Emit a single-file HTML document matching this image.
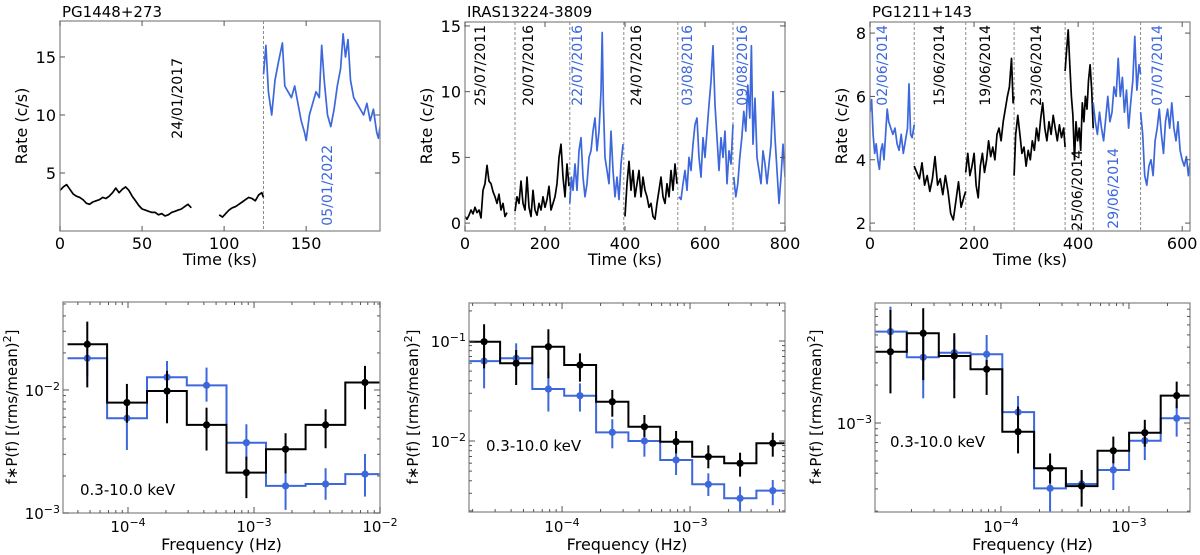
<!DOCTYPE html>
<html><head><meta charset="utf-8"><style>
html,body{margin:0;padding:0;background:#fff}
svg{display:block;font-family:"DejaVu Sans","Liberation Sans",sans-serif}
</style></head><body>
<svg id="fig" width="1200" height="555" viewBox="0 0 1200 555" xmlns="http://www.w3.org/2000/svg"></svg>
<script>
// ---------- Light curve data [time ks, rate c/s] ----------
const lc1_black_a=[[0,3.5],[2,3.8],[4,4.0],[6,3.6],[8,3.2],[10,3.0],[12,2.9],[14,2.7],[16,2.4],[18,2.3],[20,2.5],[22,2.6],[24,2.7],[26,2.9],[28,2.8],[30,3.0],[32,3.3],[34,3.7],[36,3.3],[38,3.6],[40,3.8],[42,3.5],[44,3.0],[46,2.6],[48,2.2],[50,1.9],[52,1.8],[54,1.7],[56,1.6],[58,1.6],[60,1.4],[62,1.5],[64,1.3],[66,1.4],[68,1.6],[70,1.7],[72,1.8],[74,1.9],[76,2.1],[78,2.3],[80,2.0]];
const lc1_black_b=[[97,1.4],[99,1.2],[101,1.5],[103,1.8],[105,2.0],[107,2.1],[109,2.3],[111,2.5],[113,2.7],[115,2.9],[117,2.8],[119,2.6],[121,3.1],[123,3.3],[124,2.9]];
const lc1_blue=[[124,13.5],[125.5,16],[127,12],[129,10],[131,13],[133,14.5],[135.5,16.2],[137,12.5],[139,12],[141,11.5],[143,12.5],[145,11],[147,9.5],[149,8.5],[150,7.8],[152,10],[154,11],[156,12],[158,11.5],[159.5,16],[161,13],[163,10],[165,9],[167,10.5],[169,12.5],[171,14],[172.5,17],[174,15],[175.5,16.5],[177,13],[179,11.5],[181,11],[183,10.5],[185,10],[187,11],[189,9.5],[191,10.5],[193,8.5],[194,8],[195,9]];
const lc1_splits=[124];
const lc2_black_a=[[0,0.5],[5,0.3],[10,0.6],[15,1.0],[20,0.7],[25,1.2],[30,0.8],[35,1.0],[40,0.4],[45,2.5],[50,3.0],[55,4.4],[60,3.2],[65,3.0],[70,2.4],[75,2.0],[80,1.5],[85,2.2],[90,1.0],[95,1.5],[100,0.5],[105,0.8]];
const lc2_black_b=[[125,0.9],[130,2.0],[135,1.5],[140,3.2],[145,1.5],[150,1.0],[155,3.5],[160,1.2],[165,0.5],[170,2.5],[175,1.0],[180,0.6],[185,1.5],[190,1.0],[195,2.0],[200,1.2],[205,1.8],[210,2.8],[215,1.0],[220,1.5],[225,2.0],[230,3.0],[235,5.0],[240,6.0],[245,3.5],[250,2.0],[255,4.5],[260,2.8]];
const lc2_blue_c=[[262,1.5],[266,3.5],[270,2.5],[275,4.5],[280,2.5],[285,5.5],[290,6.5],[295,3.5],[300,2.0],[305,3.0],[310,5.0],[315,5.5],[320,7.0],[325,8.0],[330,5.5],[335,7.0],[340,10.0],[343,14.5],[346,9.0],[350,5.0],[355,4.0],[360,3.0],[365,7.0],[370,4.0],[375,2.0],[380,3.5],[385,1.8],[390,4.5],[395,6.0]];
const lc2_black_d=[[400,0.5],[405,3.0],[410,4.7],[415,2.5],[420,4.0],[425,2.0],[430,3.0],[435,4.0],[440,2.0],[445,3.5],[450,2.5],[455,2.0],[460,1.2],[465,1.5],[470,0.5],[475,0.3],[480,1.5],[485,2.5],[490,3.5],[495,2.0],[500,1.5],[505,3.0],[510,2.0],[515,4.0],[520,2.5],[525,4.5],[530,3.0]];
const lc2_blue_e=[[535,2.0],[540,1.8],[545,3.0],[550,4.0],[555,2.5],[560,5.0],[565,4.0],[570,6.0],[575,7.5],[580,8.0],[585,5.0],[590,3.5],[595,6.5],[600,5.0],[605,7.0],[610,9.0],[615,10.8],[620,13.5],[625,9.0],[630,6.5],[635,4.0],[640,6.5],[645,5.0],[650,7.0],[655,3.0],[660,5.5],[665,4.5],[670,7.5]];
const lc2_blue_f=[[672,3.5],[677,2.0],[682,3.0],[687,5.0],[692,6.5],[697,8.5],[702,7.0],[707,10.5],[712,8.0],[716,13.5],[720,6.0],[725,9.5],[730,5.0],[735,4.0],[740,3.0],[745,5.5],[750,4.5],[755,3.0],[760,4.5],[765,6.0],[770,10.0],[775,6.5],[780,4.0],[785,1.5],[790,3.5],[795,6.0],[800,3.5]];
const lc2_splits=[125,262,397,532,670];
const lc3_blue_a=[[0,5.5],[3,5.9],[6,4.8],[9,4.2],[12,4.5],[15,4.0],[18,3.7],[21,4.3],[24,4.5],[27,4.0],[30,4.8],[33,5.6],[36,5.2],[40,5.0],[44,4.8],[48,5.0],[52,4.5],[56,4.3],[60,4.8],[64,4.2],[68,4.6],[72,5.0],[75,6.4],[78,4.8],[81,4.7],[85,5.1]];
const lc3_black_b=[[85,3.8],[90,3.6],[95,3.4],[100,3.9],[105,3.2],[110,3.5],[115,3.0],[120,3.4],[125,4.1],[130,3.2],[135,3.4],[140,2.9],[145,3.5],[150,3.0],[155,2.3],[160,2.1],[165,2.7],[170,3.3],[175,2.5],[180,2.8],[184,3.0]];
const lc3_black_c=[[184,3.6],[188,4.2],[192,3.5],[196,3.8],[200,4.2],[204,3.2],[208,2.8],[212,3.8],[216,4.2],[220,3.6],[224,4.0],[228,4.6],[232,4.1],[236,4.4],[240,4.0],[244,4.8],[248,5.0],[252,4.6],[256,5.2],[260,5.6],[264,6.0],[268,6.3],[272,7.2],[275,5.8],[277,6.0]];
const lc3_black_d=[[277,3.5],[280,4.8],[284,5.4],[288,4.8],[292,4.2],[296,4.4],[300,3.8],[304,4.3],[308,4.0],[312,4.6],[316,4.3],[320,5.0],[324,4.6],[328,5.3],[332,5.8],[336,5.0],[340,4.6],[344,5.2],[348,4.8],[352,5.4],[356,5.0],[360,4.6],[364,5.1],[368,4.7],[372,5.0],[375,4.4]];
const lc3_black_e=[[375,6.8],[378,7.5],[381,8.1],[384,7.0],[387,6.0],[390,5.4],[393,4.0],[396,5.2],[399,4.6],[402,5.0],[405,4.3],[408,5.8],[411,5.2],[414,6.0],[417,5.6],[420,6.5],[423,7.0],[426,6.2],[429,5.0]];
const lc3_blue_f=[[429,5.8],[433,5.2],[437,4.8],[441,5.5],[445,5.0],[449,4.6],[453,5.3],[457,6.0],[461,5.2],[465,5.5],[469,6.3],[473,6.0],[477,7.2],[481,6.0],[485,6.6],[489,5.5],[493,6.2],[497,5.0],[501,5.8],[505,6.5],[509,7.9],[513,6.2],[517,7.0],[520,6.7]];
const lc3_blue_g=[[520,5.5],[524,4.8],[528,3.5],[532,3.2],[536,3.8],[540,4.0],[544,3.5],[548,4.6],[552,5.0],[556,5.6],[560,4.8],[564,4.2],[568,5.2],[572,5.6],[576,5.0],[580,5.8],[584,5.0],[588,4.6],[592,5.2],[596,4.3],[600,4.0],[604,3.8],[608,4.1],[612,3.5],[615,3.9]];
const lc3_splits=[85,184,277,375,429,520];

// ---------- PSD data ----------
const psd1_freq=[4.75e-5,9.8e-5,2.04e-4,4.2e-4,8.7e-4,1.78e-3,3.7e-3,7.6e-3];
const psd1_black=[0.0235,0.0079,0.0098,0.0052,0.00213,0.0033,0.0052,0.0115];
const psd1_black_hi=[0.0359,0.0112,0.0143,0.00718,0.00287,0.00445,0.00697,0.0157];
const psd1_black_lo=[0.0105,0.00542,0.00536,0.00322,0.00132,0.0021,0.00336,0.00697];
const psd1_blue=[0.0181,0.00589,0.0127,0.0109,0.00373,0.00166,0.00172,0.00207];
const psd1_blue_hi=[0.0255,0.00755,0.0172,0.0152,0.00526,0.00224,0.00231,0.00302];
const psd1_blue_lo=[0.0128,0.00325,0.00883,0.00804,0.0027,0.00106,0.00128,0.00136];
const psd2_freq=[2.46e-5,4.38e-5,7.82e-5,1.38e-4,2.47e-4,4.4e-4,7.78e-4,1.39e-3,2.46e-3,4.43e-3];
const psd2_black=[0.0984,0.0598,0.0877,0.0575,0.0247,0.0139,0.00984,0.00697,0.00598,0.00948];
const psd2_black_hi=[0.147,0.0813,0.131,0.0753,0.0324,0.0182,0.0126,0.00905,0.00764,0.0121];
const psd2_black_lo=[0.0533,0.0363,0.0424,0.0392,0.0175,0.011,0.00753,0.00533,0.0044,0.00697];
const psd2_blue=[0.063,0.0671,0.0331,0.0284,0.0122,0.01,0.00646,0.00369,0.00267,0.00319];
const psd2_blue_hi=[0.0948,0.0948,0.0493,0.0377,0.0165,0.0129,0.00845,0.00475,0.00349,0.00407];
const psd2_blue_lo=[0.0336,0.0513,0.0197,0.0197,0.00845,0.00697,0.00457,0.00282,0.00189,0.00228];
const psd3_freq=[1.37e-5,2.47e-5,4.32e-5,7.73e-5,1.36e-4,2.42e-4,4.27e-4,7.55e-4,1.33e-3,2.36e-3];
const psd3_black=[3.68e-3,5.15e-3,3.4e-3,2.67e-3,8.53e-4,4.37e-4,3.16e-4,6.03e-4,8.38e-4,1.65e-3];
const psd3_black_hi=[7.88e-3,8.13e-3,5.15e-3,3.16e-3,1.35e-3,5.74e-4,4.24e-4,7.8e-4,1.06e-3,2.13e-3];
const psd3_black_lo=[1.72e-3,2.19e-3,1.57e-3,1.67e-3,5.74e-4,3.32e-4,2.17e-4,4.79e-4,6.49e-4,1.31e-3];
const psd3_blue=[5.31e-3,3.32e-3,3.61e-3,3.51e-3,1.22e-3,3.03e-4,3.28e-4,4.24e-4,7.24e-4,1.09e-3];
const psd3_blue_hi=[8.38e-3,4.84e-3,4.84e-3,4.99e-3,1.64e-3,5.4e-4,4.24e-4,6.29e-4,9.35e-4,1.43e-3];
const psd3_blue_lo=[2.8e-3,1.57e-3,2.19e-3,2.33e-3,8.81e-4,1.92e-4,2.77e-4,2.94e-4,5.08e-4,7.8e-4];

const BLUE="#3d67dc", BLACK="#000", FRAME="#8c8c8c";
const NS="http://www.w3.org/2000/svg";
const svg=document.getElementById('fig');
function mk(tag,attrs,parent){const e=document.createElementNS(NS,tag);for(const k in attrs)e.setAttribute(k,attrs[k]);(parent||svg).appendChild(e);return e;}
function lin(d0,d1,r0,r1){return v=>r0+(v-d0)/(d1-d0)*(r1-r0);}
function lg(l0,l1,r0,r1){return v=>r0+(Math.log10(v)-l0)/(l1-l0)*(r1-r0);}
let clipN=0;
function frame(g,x0,x1,y0,y1){
  const r=mk('rect',{x:x0,y:y0,width:x1-x0,height:y1-y0,fill:'none',stroke:FRAME,'stroke-width':1.3},g);
  
  
}
function tick(g,x,y,dx,dy){mk('line',{x1:x,y1:y,x2:x+dx,y2:y+dy,stroke:'#555','stroke-width':1},g);}
function clip(x0,x1,y0,y1){const id='c'+(clipN++);const cp=mk('clipPath',{id:id});mk('rect',{x:x0,y:y0,width:x1-x0,height:y1-y0},cp);return 'url(#'+id+')';}
function txt(g,x,y,s,opt){const t=mk('text',Object.assign({x:x,y:y,'font-size':14,fill:'#000'},opt||{}),g);t.textContent=s;return t;}
function powLabel(g,x,y,e,anchor){
  const t=mk('text',{x:x,y:y,'font-size':15,'text-anchor':anchor},g);
  
  
  const a=mk('tspan',{},t);a.textContent='10';
  const b=mk('tspan',{dy:-6,'font-size':11},t);b.textContent='\u2212'+Math.abs(e);
}

function lcPanel(name,title,xd,yd,xr,yr,xt,yt,segs,splits,labels,ylabX){
  const g=mk('g',{});
  
  
  const X=lin(xd[0],xd[1],xr[0],xr[1]), Y=lin(yd[0],yd[1],yr[0],yr[1]);
  const cl=clip(xr[0],xr[1],yr[1],yr[0]);
  splits.forEach(s=>{const l=mk('line',{x1:X(s),x2:X(s),y1:yr[1],y2:yr[0],stroke:'#8a8a8a','stroke-width':1,'stroke-dasharray':'3,2'},g);
    
    });
  segs.forEach(sg=>{const p=mk('polyline',{points:sg.d.map(q=>X(q[0]).toFixed(1)+','+Y(q[1]).toFixed(1)).join(' '),fill:'none',stroke:sg.c,'stroke-width':1.7,'stroke-linejoin':'round','clip-path':cl},g);
    
    });
  frame(g,xr[0],xr[1],yr[1],yr[0]);
  xt.forEach(v=>{tick(g,X(v),yr[0],0,-5);tick(g,X(v),yr[1],0,5);
    const t=txt(g,X(v),yr[0]+18,String(v),{'text-anchor':'middle','font-size':16});
    
    });
  yt.forEach(v=>{tick(g,xr[0],Y(v),5,0);tick(g,xr[1],Y(v),-5,0);
    const t=txt(g,xr[0]-4,Y(v)+6,String(v),{'text-anchor':'end','font-size':16});
    
    });
  const tt=txt(g,xr[0]+2,17,title,{'font-size':15});
  
  
  const xl=txt(g,(xr[0]+xr[1])/2,265,'Time (ks)',{'text-anchor':'middle','font-size':16});
  
  
  const yl=txt(g,0,0,'Rate (c/s)',{'text-anchor':'middle','font-size':16,transform:'translate('+ylabX+',126) rotate(-90)'});
  
  
  labels.forEach(L=>{const t=txt(g,0,0,L.s,{'text-anchor':'end','font-size':14,fill:L.c,transform:'translate('+L.x+','+L.y+') rotate(-90)'});
    
    });
}

function edges(f){const e=[];e.push(f[0]/Math.sqrt(f[1]/f[0]));for(let i=0;i<f.length-1;i++)e.push(Math.sqrt(f[i]*f[i+1]));const n=f.length;e.push(f[n-1]*Math.sqrt(f[n-1]/f[n-2]));return e;}

function psdPanel(name,xl,yl,xr,yr,xt,yt,freq,series,ylabX,kev){
  const g=mk('g',{});
  
  
  const X=lg(xl[0],xl[1],xr[0],xr[1]), Y=lg(yl[0],yl[1],yr[0],yr[1]);
  const cl=clip(xr[0],xr[1],yr[1],yr[0]);
  const e=edges(freq);
  series.forEach(s=>{
    let pts=[];
    for(let i=0;i<freq.length;i++){pts.push(X(e[i]).toFixed(1)+','+Y(s.v[i]).toFixed(1));pts.push(X(e[i+1]).toFixed(1)+','+Y(s.v[i]).toFixed(1));}
    const p=mk('polyline',{points:pts.join(' '),fill:'none',stroke:s.c,'stroke-width':2,'clip-path':cl},g);
    
    
  });
  series.forEach(s=>{
    for(let i=0;i<freq.length;i++){
      const l=mk('line',{x1:X(freq[i]),x2:X(freq[i]),y1:Y(s.hi[i]),y2:Y(s.lo[i]),stroke:s.c,'stroke-width':2,'clip-path':cl},g);
      
      
      const c=mk('circle',{cx:X(freq[i]),cy:Y(s.v[i]),r:3.6,fill:s.c,'clip-path':cl},g);
      
      
    }
  });
  frame(g,xr[0],xr[1],yr[1],yr[0]);
  for(let d=Math.floor(xl[0]);d<=Math.ceil(xl[1]);d++)for(let m=1;m<10;m++){const v=m*Math.pow(10,d);const lv=Math.log10(v);if(lv<xl[0]||lv>xl[1])continue;const L=m==1?6:3;tick(g,X(v),yr[0],0,-L);tick(g,X(v),yr[1],0,L);}
  for(let d=Math.floor(yl[0]);d<=Math.ceil(yl[1]);d++)for(let m=1;m<10;m++){const v=m*Math.pow(10,d);const lv=Math.log10(v);if(lv<yl[0]||lv>yl[1])continue;const L=m==1?6:3;tick(g,xr[0],Y(v),L,0);tick(g,xr[1],Y(v),-L,0);}
  xt.forEach(ex=>powLabel(g,X(Math.pow(10,ex)),532,ex,'middle'));
  yt.forEach(ex=>powLabel(g,xr[0]-3,Y(Math.pow(10,ex))+6,ex,'end'));
  const xa=txt(g,(xr[0]+xr[1])/2,550,'Frequency (Hz)',{'text-anchor':'middle','font-size':16});
  
  
  const ya=mk('text',{'text-anchor':'middle','font-size':15,transform:'translate('+ylabX+',407) rotate(-90)'},g);
  
  
  const a=mk('tspan',{},ya);a.textContent='f\u2217P(f) [(rms/mean)';
  const b=mk('tspan',{dy:-6,'font-size':11},ya);b.textContent='2';
  const c=mk('tspan',{dy:6},ya);c.textContent=']';
  const k=txt(g,kev[0],kev[1],'0.3-10.0 keV',{'font-size':15});
  
  
}

lcPanel('lightcurve-pg1448','PG1448+273',[0,195],[0,18.1],[60,380],[231,21],[0,50,100,150],[5,10,15],
  [{d:lc1_black_a,c:BLACK},{d:lc1_black_b,c:BLACK},{d:lc1_blue,c:BLUE}],lc1_splits,
  [{s:'24/01/2017',x:182,y:58,c:BLACK},{s:'05/01/2022',x:332,y:145,c:BLUE}],27);
lcPanel('lightcurve-iras13224','IRAS13224-3809',[0,800],[-0.6,15.3],[465,785],[231,22],[0,200,400,600,800],[0,5,10,15],
  [{d:lc2_black_a,c:BLACK},{d:lc2_black_b,c:BLACK},{d:lc2_blue_c,c:BLUE},{d:lc2_black_d,c:BLACK},{d:lc2_blue_e,c:BLUE},{d:lc2_blue_f,c:BLUE}],lc2_splits,
  [{s:'25/07/2011',x:485,y:25,c:BLACK},{s:'20/07/2016',x:533,y:25,c:BLACK},{s:'22/07/2016',x:582,y:25,c:BLUE},{s:'24/07/2016',x:641,y:25,c:BLACK},{s:'03/08/2016',x:692,y:25,c:BLUE},{s:'09/08/2016',x:747,y:25,c:BLUE}],432);
lcPanel('lightcurve-pg1211','PG1211+143',[0,615],[1.75,8.35],[870,1190],[231,22],[0,200,400,600],[2,4,6,8],
  [{d:lc3_blue_a,c:BLUE},{d:lc3_black_b,c:BLACK},{d:lc3_black_c,c:BLACK},{d:lc3_black_d,c:BLACK},{d:lc3_black_e,c:BLACK},{d:lc3_blue_f,c:BLUE},{d:lc3_blue_g,c:BLUE}],lc3_splits,
  [{s:'02/06/2014',x:887,y:25,c:BLUE},{s:'15/06/2014',x:944,y:25,c:BLACK},{s:'19/06/2014',x:990,y:25,c:BLACK},{s:'23/06/2014',x:1041,y:25,c:BLACK},{s:'25/06/2014',x:1082,y:150,c:BLACK},{s:'29/06/2014',x:1118,y:148,c:BLUE},{s:'07/07/2014',x:1162,y:25,c:BLUE}],847);

psdPanel('psd-pg1448',[-4.516,-2],[-3,-1.285],[63,380],[513,302],[-4,-3,-2],[-3,-2],psd1_freq,
  [{v:psd1_blue,hi:psd1_blue_hi,lo:psd1_blue_lo,c:BLUE},{v:psd1_black,hi:psd1_black_hi,lo:psd1_black_lo,c:BLACK}],17,[80,495]);
psdPanel('psd-iras13224',[-4.727,-2.258],[-2.71,-0.62],[469,785],[512,303],[-4,-3],[-2,-1],psd2_freq,
  [{v:psd2_blue,hi:psd2_blue_hi,lo:psd2_blue_lo,c:BLUE},{v:psd2_black,hi:psd2_black_hi,lo:psd2_black_lo,c:BLACK}],418,[486,451]);
psdPanel('psd-pg1211',[-4.984,-2.523],[-3.706,-2.048],[875,1190],[512,303],[-4,-3],[-3],psd3_freq,
  [{v:psd3_blue,hi:psd3_blue_hi,lo:psd3_blue_lo,c:BLUE},{v:psd3_black,hi:psd3_black_hi,lo:psd3_black_lo,c:BLACK}],821,[890,447]);
</script>
</body></html>
